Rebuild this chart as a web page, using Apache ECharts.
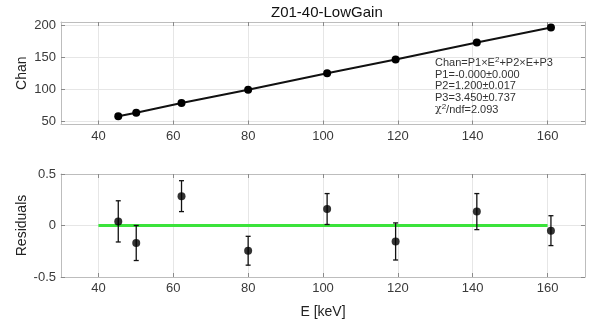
<!DOCTYPE html>
<html><head><meta charset="utf-8">
<script src="https://cdn.jsdelivr.net/npm/echarts@6/dist/echarts.min.js"></script>
<style>html,body{margin:0;padding:0;background:#fff}#c{width:601px;height:323px}</style>
</head><body><div id="c"></div>
<script>
const energy = [45.3, 50.1, 62.2, 80.0, 101.1, 119.4, 141.1, 160.9];
const chan = [57.8, 63.5, 78.4, 99.2, 124.9, 146.6, 172.9, 196.5];
const residuals = [0.04, -0.17, 0.285, -0.245, 0.16, -0.155, 0.135, -0.05];
const resErr = [0.20, 0.17, 0.15, 0.14, 0.15, 0.18, 0.175, 0.145];
const zeroLineX = [40, 160];
const xTicks = [40, 60, 80, 100, 120, 140, 160];
const chanTicks = [50, 100, 150, 200];
const resTicks = [-0.5, 0, 0.5];
const title = 'Z01-40-LowGain';

const font = 'Liberation Sans, Arial, sans-serif';
const tc = '#3a3a3a';
const chart = echarts.init(document.getElementById('c'), null, {renderer: 'canvas'});

function axisBase(gi, pos, min, max, ticks, labels) {
  return {gridIndex: gi, type: 'value', position: pos, min: min, max: max,
    axisLine: {show: true, onZero: false, lineStyle: {color: '#bdbdbd'}},
    axisTick: {show: true, inside: true, length: 4, customValues: ticks, lineStyle: {color: '#8a8a8a'}},
    axisLabel: {show: labels, customValues: ticks, color: tc, fontFamily: font, fontSize: 13, margin: 5},
    splitLine: {show: labels, lineStyle: {color: '#e6e6e6'}}};
}
const nameStyle = {fontFamily: font, fontSize: 14, color: '#222'};

const errItem = function (params, api) {
  const x = api.value(0), lo = api.value(1), hi = api.value(2);
  const pLo = api.coord([x, lo]), pHi = api.coord([x, hi]);
  const cap = 2.5;
  const st = {stroke: '#111', lineWidth: 1.3};
  return {type: 'group', children: [
    {type: 'line', shape: {x1: pLo[0], y1: pLo[1], x2: pHi[0], y2: pHi[1]}, style: st},
    {type: 'line', shape: {x1: pLo[0]-cap, y1: pLo[1], x2: pLo[0]+cap, y2: pLo[1]}, style: st},
    {type: 'line', shape: {x1: pHi[0]-cap, y1: pHi[1], x2: pHi[0]+cap, y2: pHi[1]}, style: st}
  ]};
};

const xBottom = axisBase(1, 'bottom', 30, 170, xTicks, true);
xBottom.name = 'E [keV]'; xBottom.nameLocation = 'middle'; xBottom.nameGap = 28; xBottom.nameTextStyle = nameStyle;
const yTop = axisBase(0, 'left', 45, 205, chanTicks, true);
yTop.name = 'Chan'; yTop.nameLocation = 'middle'; yTop.nameGap = 32; yTop.nameMoveOverlap = false; yTop.nameTextStyle = nameStyle;
const yBot = axisBase(1, 'left', -0.5, 0.5, resTicks, true);
yBot.name = 'Residuals'; yBot.nameLocation = 'middle'; yBot.nameGap = 32; yBot.nameMoveOverlap = false; yBot.nameTextStyle = nameStyle;
yBot.axisLabel.formatter = v => String(v);

chart.setOption({
  animation: false,
  backgroundColor: '#fff',
  title: {text: title, left: 266, top: 0, textStyle: {fontFamily: font, fontSize: 15, fontWeight: 'normal', color: '#111'}},
  grid: [
    {left: 61, right: 16, top: 22, height: 102.5},
    {left: 61, right: 16, top: 174, height: 103}
  ],
  xAxis: [axisBase(0, 'bottom', 30, 170, xTicks, true), axisBase(0, 'top', 30, 170, xTicks, false),
          xBottom, axisBase(1, 'top', 30, 170, xTicks, false)],
  yAxis: [yTop, axisBase(0, 'right', 45, 205, chanTicks, false),
          yBot, axisBase(1, 'right', -0.5, 0.5, resTicks, false)],
  graphic: [{
    type: 'text', left: 435, top: 56, z: 100,
    style: {
      text: 'Chan=P1×E{sup|2}+P2×E+P3\nP1=-0.000±0.000\nP2=1.200±0.017\nP3=3.450±0.737\n{chi|χ}{sup|2}/ndf=2.093',
      fontFamily: font, fontSize: 11, lineHeight: 11.6, fill: '#333',
      rich: {
        sup: {fontSize: 8, fontFamily: font, fill: '#333', lineHeight: 11.6, verticalAlign: 'bottom', padding: [0, 0, 5, 0]},
        chi: {fontFamily: 'DejaVu Serif, serif', fontSize: 11, fill: '#333', lineHeight: 11.6}
      }
    }
  }],
  series: [
    {type: 'line', xAxisIndex: 0, yAxisIndex: 0, data: energy.map((e, i) => [e, chan[i]]),
      symbol: 'circle', symbolSize: 8, itemStyle: {color: '#000'}, lineStyle: {color: '#111', width: 2}, z: 3},
    {type: 'line', xAxisIndex: 2, yAxisIndex: 2, data: zeroLineX.map(x => [x, 0]),
      symbol: 'none', lineStyle: {color: '#3be33b', width: 3}, z: 2},
    {type: 'custom', xAxisIndex: 2, yAxisIndex: 2, renderItem: errItem,
      data: energy.map((e, i) => [e, residuals[i] - resErr[i], residuals[i] + resErr[i]]), z: 3},
    {type: 'scatter', xAxisIndex: 2, yAxisIndex: 2, data: energy.map((e, i) => [e, residuals[i]]),
      symbol: 'circle', symbolSize: 8, itemStyle: {color: '#000'}, z: 4}
  ]
});
</script></body></html>
